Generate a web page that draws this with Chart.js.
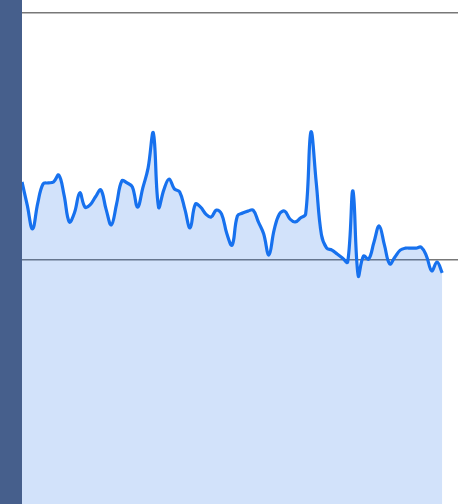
<!DOCTYPE html>
<html lang="en">
<head>
    <meta charset="UTF-8">
    <title>Line chart</title>
    <style>
        body {
            margin: 0;
            padding: 0;
            background-color: #fff;
            overflow: hidden;
        }
        .side {
            position: absolute;
            left: 0;
            top: 0;
            width: 22px;
            height: 504px;
            background-color: #465f8c;
        }
        .chart-container {
            position: absolute;
            left: 22px;
            top: 0;
            width: 436px;
            height: 504px;
        }
    </style>
    <script src="https://cdn.jsdelivr.net/npm/chart.js"></script>
</head>
<body>
    <div class="side"></div>
    <div class="chart-container">
        <canvas id="lineChart"></canvas>
    </div>
    <script>
        // 84 slots on the x axis, only the first 81 have values
        const labels = Array.from({ length: 84 }, (_, i) => String(i));

        const values = [
            65.8, 61.1, 56.3, 61.5, 65.4, 65.6, 65.8, 67.2, 63.2, 57.7,
            59.6, 63.6, 60.7, 61.2, 62.8, 64.2, 60.3, 57.1, 61.3, 66.0,
            65.6, 64.8, 60.7, 64.6, 68.6, 75.7, 60.7, 64.2, 66.4, 64.4,
            63.8, 60.3, 56.5, 61.3, 60.7, 59.3, 58.7, 60.1, 59.3, 55.3,
            53.0, 58.9, 59.5, 59.9, 60.1, 57.7, 55.3, 51.0, 56.1, 59.3,
            59.9, 58.3, 57.7, 58.5, 59.3, 75.9, 65.8, 55.1, 52.4, 52.0,
            51.2, 50.4, 49.6, 64.0, 46.8, 50.8, 50.2, 53.6, 56.9, 53.0,
            49.2, 50.6, 52.0, 52.4, 52.4, 52.4, 52.6, 50.8, 47.8, 49.6,
            47.4
        ];

        const gridValues = [50, 100];

        window.onload = function() {
            const ctx = document.getElementById('lineChart').getContext('2d');

            new Chart(ctx, {
                type: 'line',
                data: {
                    labels: labels,
                    datasets: [{
                        data: values,
                        borderColor: '#1771ee',
                        // translucent so the grid line still shows through the fill
                        backgroundColor: 'rgba(30, 110, 230, 0.2)',
                        borderWidth: 3.2,
                        pointRadius: 0,
                        tension: 0.4,
                        fill: 'start'
                    }]
                },
                options: {
                    responsive: true,
                    maintainAspectRatio: false,
                    animation: false,
                    layout: { padding: 0 },
                    plugins: {
                        legend: { display: false },
                        tooltip: { enabled: false }
                    },
                    scales: {
                        x: {
                            display: false,
                            offset: false
                        },
                        y: {
                            min: 0.61,
                            max: 102.63,
                            afterBuildTicks: function(scale) {
                                scale.ticks = gridValues.map(v => ({ value: v }));
                            },
                            ticks: { display: false },
                            border: { display: false },
                            grid: {
                                color: 'rgba(105, 105, 105, 0.9)',
                                lineWidth: 1.5,
                                drawTicks: false
                            }
                        }
                    }
                }
            });
        };
    </script>
</body>
</html>
